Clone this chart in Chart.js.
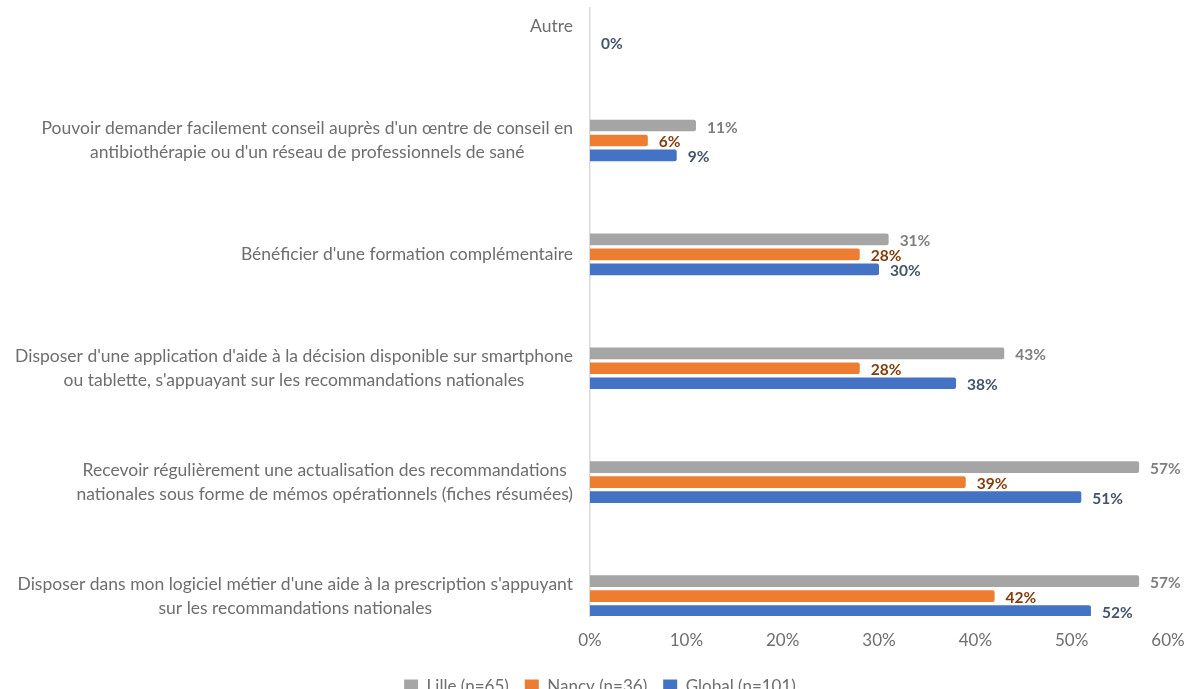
<!DOCTYPE html>
<html lang="fr">
<head>
<meta charset="utf-8">
<title>Attentes des prescripteurs</title>
<script src="https://cdn.jsdelivr.net/npm/chart.js@4/dist/chart.umd.min.js"></script>
<style>
  html, body { margin: 0; padding: 0; background: #fff; overflow: hidden; }
  #wrap { position: relative; width: 1186px; height: 705px; }
</style>
</head>
<body>
<div id="wrap"><canvas id="chart"></canvas></div>
<script>
// Categories (top to bottom), each one split into its display lines
const categories = [
  ['Autre'],
  ["Pouvoir demander facilement conseil auprès d'un œntre de conseil en",
   "antibiothérapie ou d'un réseau de professionnels de sané"],
  ["Bénéficier d'une formation complémentaire"],
  ["Disposer d'une application d'aide à la décision disponible sur smartphone",
   "ou tablette, s'appuayant sur les recommandations nationales"],
  ['Recevoir régulièrement une actualisation des recommandations',
   'nationales sous forme de mémos opérationnels (fiches résumées)'],
  ["Disposer dans mon logiciel métier d'une aide à la prescription s'appuyant",
   'sur les recommandations nationales']
];

const lille  = [0, 11, 31, 43, 57, 57];
const nancy  = [0, 6, 28, 28, 39, 42];
const global = [0, 9, 30, 38, 51, 52];

const xTicks = [0, 10, 20, 30, 40, 50, 60];

const TEXT_GRAY = '#6e6e6e';
const FONT = 'Lato, "Open Sans", sans-serif';
const LINE_H = 24;

// bars sit on a numeric index axis so the category band can overrun the axis line
const toPoints = values => values.map((v, i) => ({ x: v, y: i }));

// wrapped category labels: block right-aligned, lines centred within the block
const categoryLabels = {
  id: 'categoryLabels',
  afterDraw(chart) {
    const { ctx, chartArea, scales: { y } } = chart;
    ctx.save();
    ctx.font = '17.5px ' + FONT;
    ctx.fillStyle = TEXT_GRAY;
    ctx.textAlign = 'center';
    ctx.textBaseline = 'middle';
    const right = chartArea.left - 17;
    categories.forEach((lines, i) => {
      const w = Math.max(...lines.map(l => ctx.measureText(l).width));
      const cx = right - w / 2;
      const cy = y.getPixelForValue(i);
      lines.forEach((line, k) => {
        ctx.fillText(line, cx, cy + (k - (lines.length - 1) / 2) * LINE_H);
      });
    });
    ctx.restore();
  }
};

// percentage labels at the end of each bar
const valueLabels = {
  id: 'valueLabels',
  afterDatasetsDraw(chart) {
    const { ctx } = chart;
    ctx.save();
    ctx.font = 'bold 15.5px ' + FONT;
    ctx.textAlign = 'left';
    ctx.textBaseline = 'middle';
    chart.data.datasets.forEach((ds, di) => {
      chart.getDatasetMeta(di).data.forEach((bar, i) => {
        const v = ds.data[i].x;
        if (v === 0 && !ds.showZero) return;
        ctx.fillStyle = ds.labelColor;
        ctx.fillText(v + '%', bar.x + 11, bar.y + 2);
      });
    });
    ctx.restore();
  }
};

// legend sits a little right of the canvas centre
const legendShift = {
  id: 'legendShift',
  afterLayout(chart) {
    chart.legend.left += 16;
    chart.legend.right += 16;
  }
};

const barStyle = {
  categoryPercentage: 0.394,
  barPercentage: 0.78,
  borderRadius: 2,
  borderSkipped: 'start'
};

new Chart(document.getElementById('chart'), {
  type: 'bar',
  data: {
    datasets: [
      { label: 'Lille (n=65)', data: toPoints(lille), backgroundColor: '#a5a5a5',
        labelColor: '#7f7f7f', showZero: false, ...barStyle },
      { label: 'Nancy (n=36)', data: toPoints(nancy), backgroundColor: '#ed7d31',
        labelColor: '#843c0c', showZero: false, ...barStyle },
      { label: 'Global (n=101)', data: toPoints(global), backgroundColor: '#4472c4',
        labelColor: '#44546a', showZero: true, ...barStyle }
    ]
  },
  options: {
    indexAxis: 'y',
    responsive: true,
    maintainAspectRatio: false,
    animation: false,
    layout: { padding: { top: 8, right: 18, left: 0, bottom: 0 } },
    scales: {
      y: {
        type: 'linear',
        reverse: true,
        offset: false,
        min: -0.163,
        max: 5.175,
        afterBuildTicks(scale) { scale.ticks = categories.map((c, i) => ({ value: i })); },
        grid: { display: false },
        ticks: { display: false },
        border: { display: true, color: '#d9d9e0', width: 1.5 },
        afterFit(scale) { scale.width = 590; }
      },
      x: {
        min: 0,
        max: 60,
        afterBuildTicks(scale) { scale.ticks = xTicks.map(v => ({ value: v })); },
        grid: { display: false, drawTicks: false },
        border: { display: false },
        ticks: {
          padding: 14,
          color: TEXT_GRAY,
          font: { family: FONT, size: 17 },
          callback: v => v + '%'
        },
        afterFit(scale) {
          scale.height = 46;
          scale.paddingRight = 0;
        }
      }
    },
    plugins: {
      legend: {
        position: 'bottom',
        labels: {
          boxWidth: 14,
          boxHeight: 14,
          padding: 16,
          color: TEXT_GRAY,
          font: { family: FONT, size: 17 }
        }
      },
      tooltip: { enabled: false }
    }
  },
  plugins: [categoryLabels, valueLabels, legendShift]
});
</script>
</body>
</html>
